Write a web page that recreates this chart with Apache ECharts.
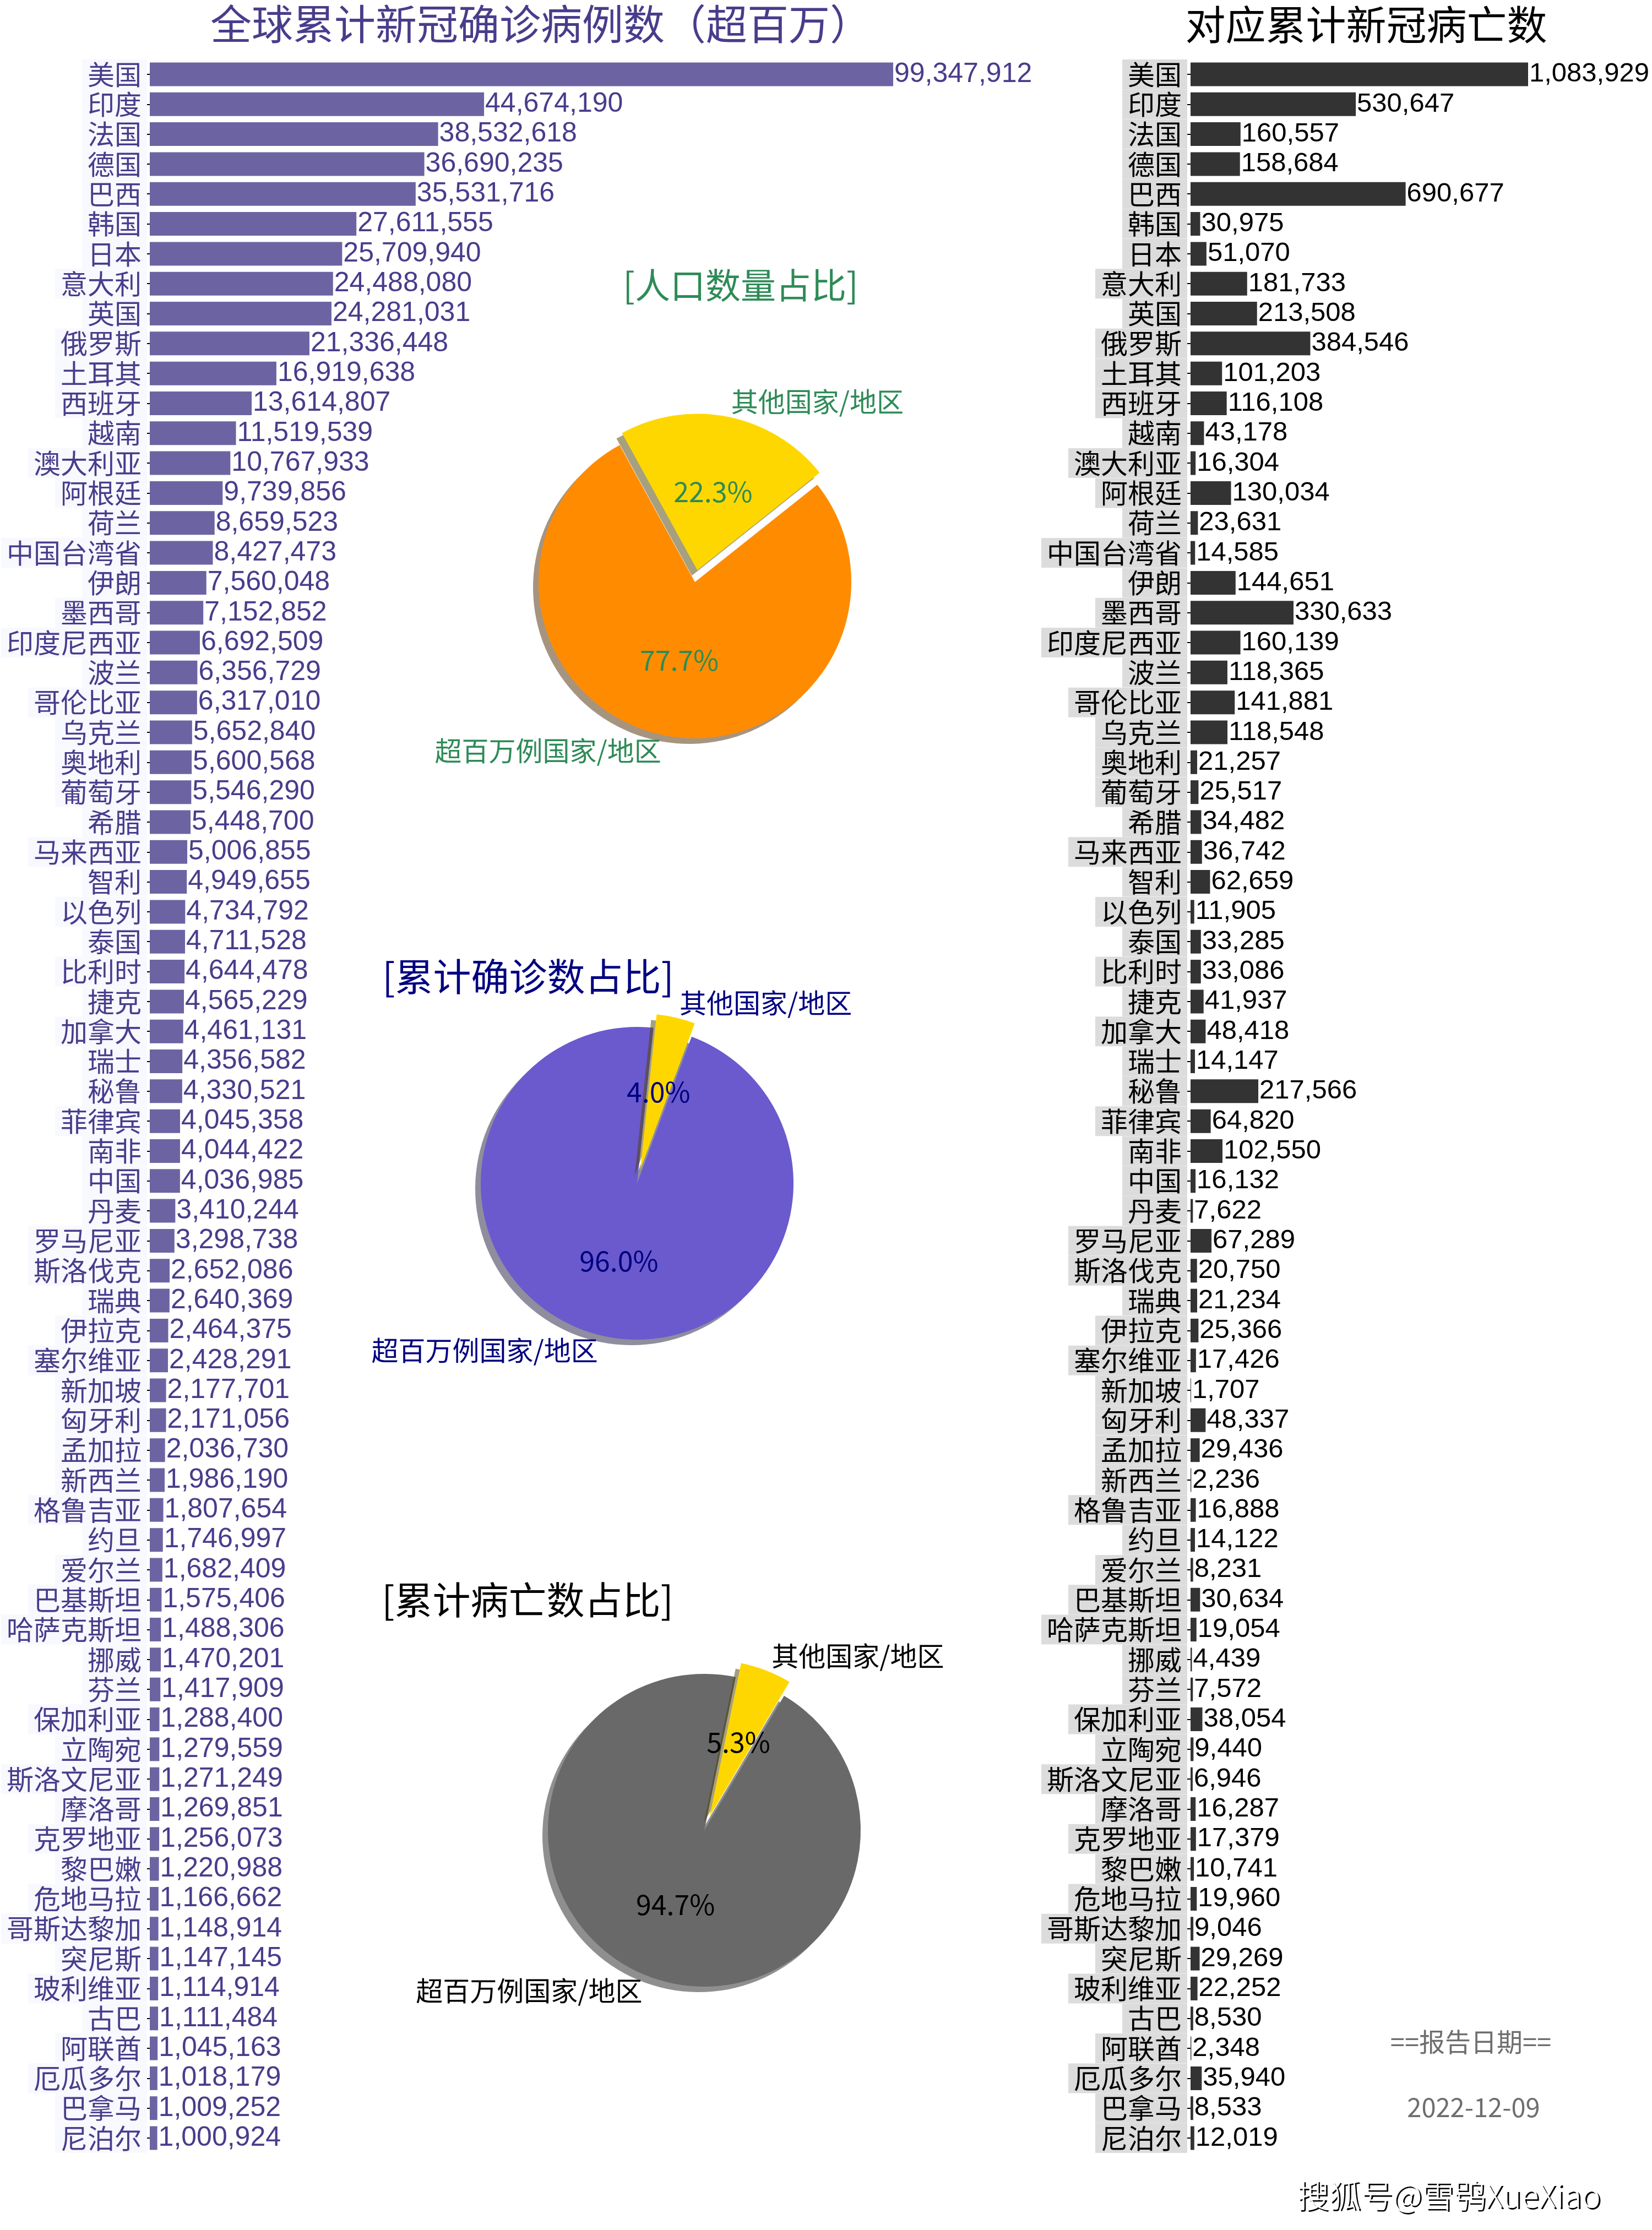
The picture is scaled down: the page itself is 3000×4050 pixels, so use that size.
<!DOCTYPE html>
<html><head><meta charset="utf-8">
<script src="https://cdn.jsdelivr.net/npm/echarts@6/dist/echarts.min.js"></script>
<style>html,body{margin:0;padding:0;background:#fff}#c{width:3000px;height:4050px}</style>
</head><body><div id="c"></div>
<script>
const countries = ['美国','印度','法国','德国','巴西','韩国','日本','意大利','英国','俄罗斯','土耳其','西班牙','越南','澳大利亚','阿根廷','荷兰','中国台湾省','伊朗','墨西哥','印度尼西亚','波兰','哥伦比亚','乌克兰','奥地利','葡萄牙','希腊','马来西亚','智利','以色列','泰国','比利时','捷克','加拿大','瑞士','秘鲁','菲律宾','南非','中国','丹麦','罗马尼亚','斯洛伐克','瑞典','伊拉克','塞尔维亚','新加坡','匈牙利','孟加拉','新西兰','格鲁吉亚','约旦','爱尔兰','巴基斯坦','哈萨克斯坦','挪威','芬兰','保加利亚','立陶宛','斯洛文尼亚','摩洛哥','克罗地亚','黎巴嫩','危地马拉','哥斯达黎加','突尼斯','玻利维亚','古巴','阿联酋','厄瓜多尔','巴拿马','尼泊尔'];
const cases = [99347912,44674190,38532618,36690235,35531716,27611555,25709940,24488080,24281031,21336448,16919638,13614807,11519539,10767933,9739856,8659523,8427473,7560048,7152852,6692509,6356729,6317010,5652840,5600568,5546290,5448700,5006855,4949655,4734792,4711528,4644478,4565229,4461131,4356582,4330521,4045358,4044422,4036985,3410244,3298738,2652086,2640369,2464375,2428291,2177701,2171056,2036730,1986190,1807654,1746997,1682409,1575406,1488306,1470201,1417909,1288400,1279559,1271249,1269851,1256073,1220988,1166662,1148914,1147145,1114914,1111484,1045163,1018179,1009252,1000924];
const deaths = [1083929,530647,160557,158684,690677,30975,51070,181733,213508,384546,101203,116108,43178,16304,130034,23631,14585,144651,330633,160139,118365,141881,118548,21257,25517,34482,36742,62659,11905,33285,33086,41937,48418,14147,217566,64820,102550,16132,7622,67289,20750,21234,25366,17426,1707,48337,29436,2236,16888,14122,8231,30634,19054,4439,7572,38054,9440,6946,16287,17379,10741,19960,9046,29269,22252,8530,2348,35940,8533,12019];
const pieNames = ['超百万例国家/地区','其他国家/地区'];
const popShare = [77.7, 22.3];
const caseShare = [96.0, 4.0];
const deathShare = [94.7, 5.3];
const titles = ['全球累计新冠确诊病例数（超百万）','对应累计新冠病亡数','[人口数量占比]','[累计确诊数占比]','[累计病亡数占比]'];
const reportTitle = '==报告日期==';
const reportDate = '2022-12-09';
const watermark = '搜狐号@雪鸮XueXiao';

const CJK = 'Noto Sans CJK SC';
const LAT = 'Liberation Sans';
const fmt = v => String(v).replace(/\B(?=(\d{3})+(?!\d))/g, ',');
const GTOP = 107.8, GH = 3802.4;

function barGrid(idx, labelColor, labelBg, barColor, valColor, valSize, data, margin) {
  return {
    xAxis: {type:'value', gridIndex: idx, min:0, max:'dataMax', show:false},
    yAxis: {type:'category', gridIndex: idx, data: countries, inverse:true,
      axisLine:{show:false},
      axisTick:{show:true, alignWithLabel:true, interval:0, length:6, lineStyle:{color:'#000', width:2}},
      splitLine:{show:false},
      axisLabel:{interval:0, margin: margin, color: labelColor, fontFamily: CJK, fontSize: 49,
        lineHeight: 54, backgroundColor: labelBg, padding:[0,10,0,10]}},
    series: {type:'bar', xAxisIndex: idx, yAxisIndex: idx, data: data, barWidth: 43,
      itemStyle:{color: barColor}, silent:true, animation:false,
      label:{show:true, position:'right', distance:2, color: valColor, fontFamily: LAT, fontSize: valSize,
        formatter: p => fmt(p.value)}}
  };
}
const g0 = barGrid(0, '#483d8b', '#f8f8ff', '#6c64a2', '#483d8b', 50, cases, 5);
const g1 = barGrid(1, '#000', '#dcdcdc', '#333333', '#000', 49, deaths, 6);

const R = 284;
function pieSeries(center, startAngle, offset, shares, colors, shadows, txtColor) {
  const common = {type:'pie', center: center, radius: R, startAngle: startAngle, clockwise:false,
    selectedMode:'multiple', selectedOffset: offset, avoidLabelOverlap:false, animation:false, silent:true,
    emphasis:{disabled:true}};
  return [
    Object.assign({}, common, {
      data: shares.map((v,i)=>({name: pieNames[i], value: v, selected: i===1,
        itemStyle:{color: colors[i], shadowColor: shadows[i]}})),
      itemStyle:{borderWidth:0, shadowBlur:0, shadowOffsetX:-10, shadowOffsetY:10},
      select:{itemStyle:{borderWidth:0}},
      label:{show:true, position:'inside', formatter: p => p.value.toFixed(1)+'%', color: txtColor,
        fontSize:50, fontFamily: CJK, textBorderWidth:0},
      labelLine:{show:false}
    }),
    Object.assign({}, common, {
      data: shares.map((v,i)=>({name: pieNames[i], value: v, selected: i===1})),
      itemStyle:{color:'rgba(0,0,0,0)', borderWidth:0},
      select:{itemStyle:{color:'rgba(0,0,0,0)', borderWidth:0}},
      label:{show:true, position:'outside', formatter:'{b}', color: txtColor, fontSize:49,
        fontFamily: CJK, distanceToLabelLine:0, textBorderWidth:0},
      labelLine:{show:false, length:28, length2:0}
    })
  ];
}

const pies = [].concat(
  pieSeries([1262,1057], 118.8, 22, popShare, ['#ff8c00','#ffd700'], ['rgba(77,42,0,0.5)','rgba(77,65,0,0.5)'], '#2e8b57'),
  pieSeries([1157,2149], 84, 25, caseShare, ['#6a5acd','#ffd700'], ['rgba(32,27,62,0.5)','rgba(77,65,0,0.5)'], '#000080'),
  pieSeries([1279,3324], 78.4, 27, deathShare, ['#696969','#ffd700'], ['rgba(32,32,32,0.5)','rgba(77,65,0,0.5)'], '#000')
);

function ttl(text, x, y, color, size, extra) {
  return {text: text, left: x, top: y, textAlign:'center', textVerticalAlign:'middle', padding:0,
    textStyle: Object.assign({color: color, fontSize: size, fontFamily: CJK, fontWeight:'normal'}, extra || {})};
}

const chart = echarts.init(document.getElementById('c'), null, {renderer:'canvas'});
chart.setOption({
  backgroundColor:'#fff',
  animation:false,
  title: [
    ttl(titles[0], 982, 43, '#483d8b', 75),
    ttl(titles[1], 2481, 44, '#000', 73),
    ttl(titles[2], 1345, 518, '#2e8b57', 64),
    ttl(titles[3], 959, 1774, '#000080', 69),
    ttl(titles[4], 958, 2906, '#000', 69),
    ttl(reportTitle, 2671, 3708, '#6e6e6e', 47),
    ttl(reportDate, 2676, 3827, '#6e6e6e', 47),
    ttl(watermark, 2634, 3990, '#000', 58, {fontWeight: 300}),
    ttl(watermark, 2631, 3987, '#fff', 58, {fontWeight: 300})
  ],
  grid: [
    {left:272, top:GTOP, width:1350, height:GH, containLabel:false, outerBoundsMode:'none'},
    {left:2162, top:GTOP, width:613, height:GH, containLabel:false, outerBoundsMode:'none'}
  ],
  xAxis: [g0.xAxis, g1.xAxis],
  yAxis: [g0.yAxis, g1.yAxis],
  series: [g0.series, g1.series].concat(pies)
});
</script></body></html>
